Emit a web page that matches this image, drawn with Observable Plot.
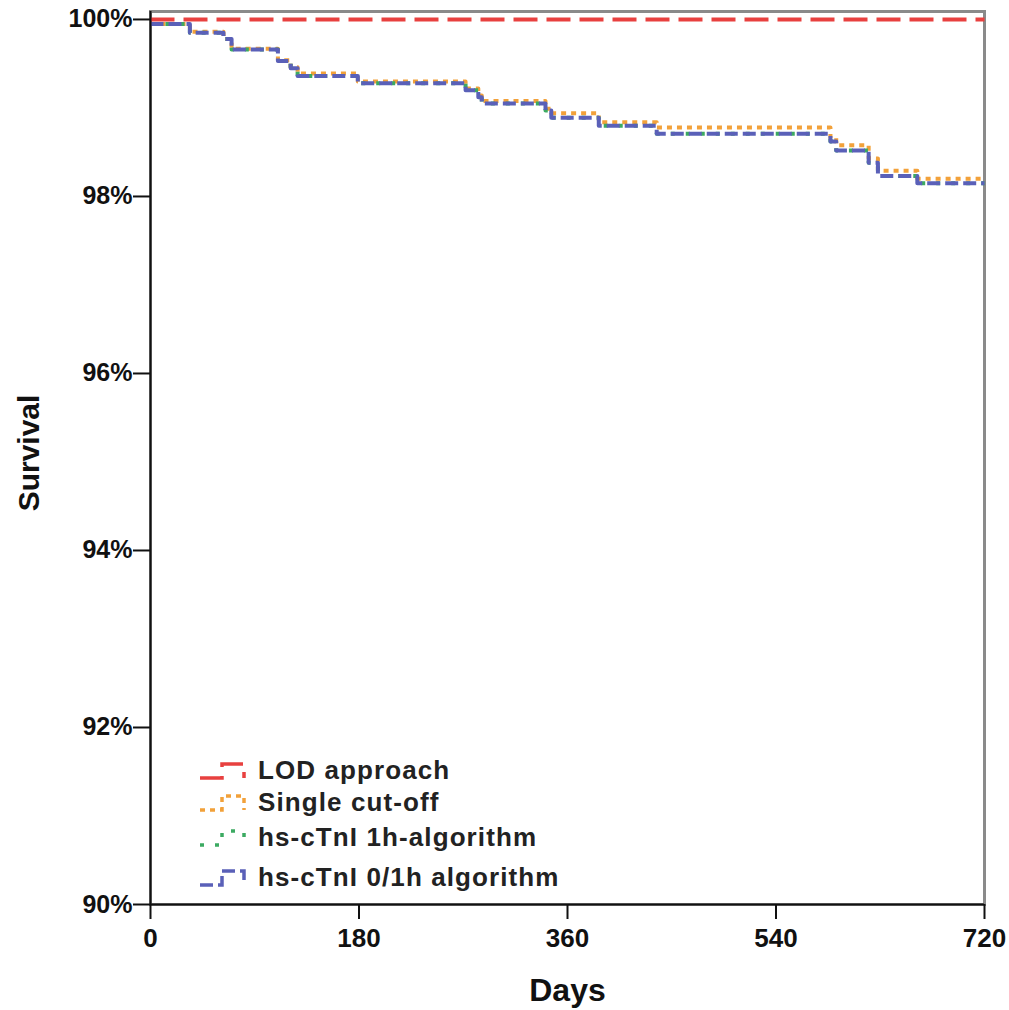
<!DOCTYPE html>
<html>
<head>
<meta charset="utf-8">
<script src="https://cdn.jsdelivr.net/npm/d3@7"></script>
<script src="https://cdn.jsdelivr.net/npm/@observablehq/plot@0.6"></script>
<style>
  html, body { margin: 0; padding: 0; background: #fff; }
  #wrap { position: relative; width: 1009px; height: 1010px; font-family: "Liberation Sans", Arial, sans-serif; }
  #legend { position: absolute; left: 198px; top: 755px; }
  .row { position: absolute; left: 0; white-space: nowrap; display: flex; align-items: center; }
  .row span { font-size: 26px; font-weight: bold; color: #222; margin-left: 6px; letter-spacing: 1.1px; }
</style>
</head>
<body>
<div id="wrap"><div id="chart"></div><div id="legend"></div></div>
<script>
// ---- data ----
const seriesNames = ["LOD approach", "Single cut-off", "hs-cTnI 1h-algorithm", "hs-cTnI 0/1h algorithm"];
const seriesColors = ["#e8403f", "#f2a13a", "#3caa62", "#5a60b8"];
const seriesDash = ["24,9", "5,5", "4,11", "13,5"];

const lodDays = [0, 720];
const lodSurv = [100, 100];

const days = [0, 34, 63, 70, 110, 121, 127, 179, 272, 283, 286, 341, 346, 387, 437, 587, 592, 620, 628, 662, 720];
const singleSurv = [99.95, 99.86, 99.78, 99.67, 99.54, 99.46, 99.39, 99.30, 99.22, 99.14, 99.08, 98.99, 98.94, 98.84, 98.78, 98.66, 98.58, 98.43, 98.29, 98.20, 98.20];
const oneHSurv =   [99.95, 99.85, 99.78, 99.66, 99.53, 99.45, 99.36, 99.28, 99.20, 99.12, 99.05, 98.97, 98.89, 98.80, 98.71, 98.62, 98.52, 98.38, 98.23, 98.15, 98.15];
const zeroOneSurv = [99.95, 99.85, 99.78, 99.66, 99.53, 99.45, 99.36, 99.28, 99.20, 99.12, 99.05, 98.97, 98.89, 98.80, 98.71, 98.62, 98.52, 98.38, 98.23, 98.15, 98.15];

const xTicks = [0, 180, 360, 540, 720];
const yTicks = [90, 92, 94, 96, 98, 100];

// ---- build tables ----
const toRows = (ds, ss) => ds.map((d, i) => ({day: d, surv: ss[i]}));
const lines = [
  {name: seriesNames[1], rows: toRows(days, singleSurv), i: 1},
  {name: seriesNames[2], rows: toRows(days, oneHSurv), i: 2},
  {name: seriesNames[3], rows: toRows(days, zeroOneSurv), i: 3},
  {name: seriesNames[0], rows: toRows(lodDays, lodSurv), i: 0}
];

const font = '"Liberation Sans", Arial, sans-serif';

const chart = Plot.plot({
  width: 1009,
  height: 1010,
  marginLeft: 150,
  marginRight: 25,
  marginTop: 11,
  marginBottom: 106,
  style: {fontFamily: font, background: "#fff", overflow: "visible"},
  x: {domain: [0, 720], ticks: xTicks},
  y: {domain: [90, 100.09], ticks: yTicks},
  marks: [
    Plot.frame({stroke: "#8a8a8a", strokeWidth: 3}),
    ...lines.map(s => Plot.line(s.rows, {
      x: "day", y: "surv", curve: "step-after",
      stroke: seriesColors[s.i], strokeWidth: 4,
      strokeDasharray: seriesDash[s.i], strokeLinecap: "butt"
    })),
    Plot.ruleX([0], {stroke: "#111", strokeWidth: 2}),
    Plot.ruleY([90], {stroke: "#111", strokeWidth: 2}),
    Plot.axisY({ticks: yTicks, tickFormat: d => d + "%", tickSize: 17, tickPadding: 1,
      fontSize: 25, fontWeight: "bold", fill: "#111", stroke: "#111", label: null}),
    Plot.axisX({ticks: xTicks, tickSize: 15, tickPadding: 9,
      fontSize: 26, fontWeight: "bold", fill: "#111", stroke: "#111", label: null}),
    Plot.text(["Days"], {frameAnchor: "bottom", dy: 96, fontSize: 32, fontWeight: "bold", fill: "#111"}),
    Plot.text(["Survival"], {frameAnchor: "left", textAnchor: "middle", dx: -121, dy: -5, rotate: -90, fontSize: 30, fontWeight: "bold", fill: "#111"})
  ]
});
// thicken tick strokes
chart.querySelectorAll('[aria-label="y-axis tick"] path, [aria-label="x-axis tick"] path').forEach(p => p.setAttribute("stroke-width", "2"));
document.getElementById("chart").appendChild(chart);

// ---- legend ----
const legendTops = [4, 36, 71, 111];
const legend = document.getElementById("legend");
[0, 1, 2, 3].forEach(i => {
  const row = document.createElement("div");
  row.className = "row";
  row.style.top = (legendTops[i] - 4) + "px";
  row.innerHTML = `<svg width="54" height="30"><path d="M2,22 H24 V8 H46 V22" fill="none" stroke="${seriesColors[i]}" stroke-width="3.5" stroke-dasharray="${seriesDash[i]}"/></svg><span>${seriesNames[i]}</span>`;
  legend.appendChild(row);
});
</script>
</body>
</html>
